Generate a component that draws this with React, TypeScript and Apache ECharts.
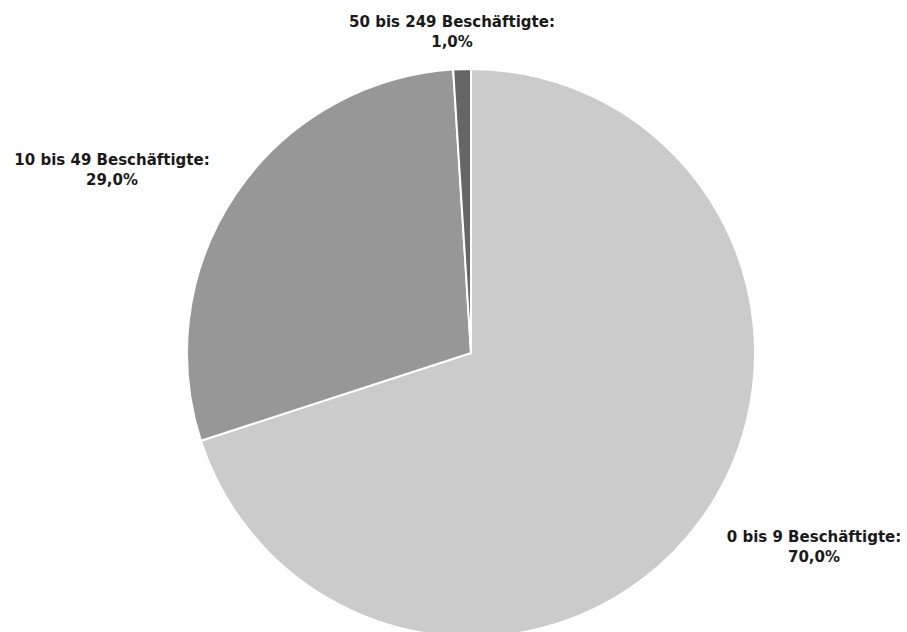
import React, { useEffect, useRef } from "react";
import * as echarts from "echarts";

const categories = ["0 bis 9 Beschäftigte", "10 bis 49 Beschäftigte", "50 bis 249 Beschäftigte"];
const values = [70.0, 29.0, 1.0];
const colors = ["#cbcbcb", "#979797", "#666666"];
const labelAnchors = [
  { x: 814, y: 547 },
  { x: 112, y: 170 },
  { x: 452, y: 32 },
];

export default function App() {
  const ref = useRef<HTMLDivElement>(null);
  useEffect(() => {
    document.body.style.margin = "0";
    const chart = echarts.init(ref.current!, null, { renderer: "svg" });
    chart.setOption({
      animation: false,
      backgroundColor: "#ffffff",
      series: [
        {
          type: "pie",
          center: [471, 353],
          radius: 284,
          startAngle: 90,
          clockwise: true,
          data: categories.map((c, i) => ({
            name: c,
            value: values[i],
            itemStyle: { color: colors[i] },
          })),
          itemStyle: { borderColor: "#ffffff", borderWidth: 2 },
          label: {
            show: true,
            position: "outside",
            formatter: (p: any) =>
              `${p.name}:\n${p.value.toFixed(1).replace(".", ",")}%`,
            fontFamily: "DejaVu Sans",
            fontWeight: "bold",
            fontSize: 15,
            lineHeight: 20,
            color: "#1a1a1a",
            align: "center",
            overflow: "none",
          },
          labelLine: { show: false },
          labelLayout: (params: any) => {
            const a = labelAnchors[params.dataIndex];
            return { x: a.x, y: a.y, align: "center", verticalAlign: "middle" };
          },
          emphasis: { disabled: true },
        },
      ],
    });
    return () => chart.dispose();
  }, []);
  return <div ref={ref} style={{ width: 907, height: 632 }} />;
}
